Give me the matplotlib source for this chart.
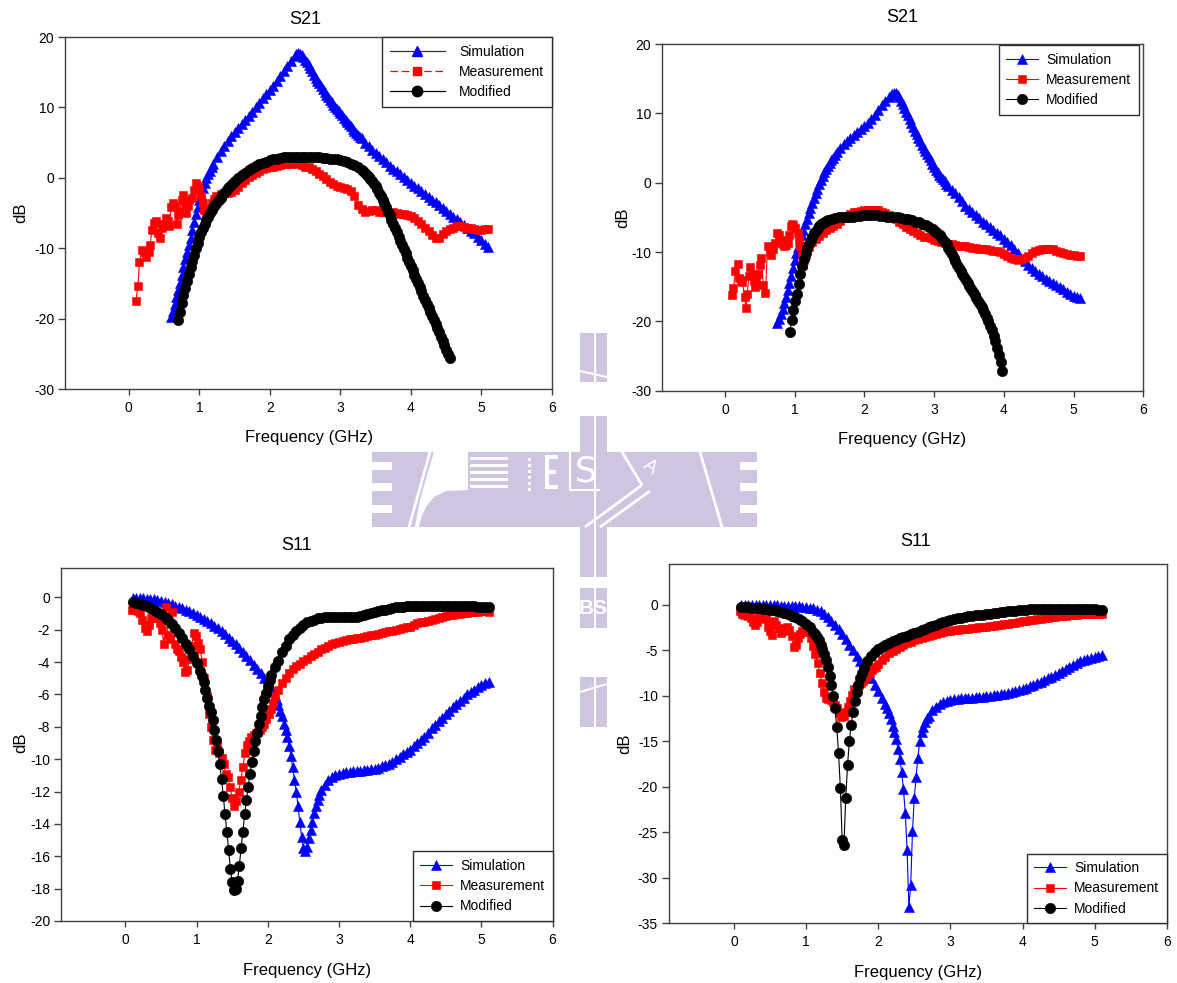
import numpy as np
import matplotlib
matplotlib.use("Agg")
import matplotlib.pyplot as plt
from matplotlib.lines import Line2D
from matplotlib.patches import Rectangle, Polygon

plt.rcParams['font.family'] = ['Liberation Sans', 'DejaVu Sans']
plt.rcParams['axes.unicode_minus'] = False

# ---------------- DATA (frequency in GHz, values in dB) ----------------
# Each segment: start frequency, step.
# Top-left S21
SIM1_A_F0, SIM1_A_STEP = 0.600, 0.025
SIM1_A = [-19.8, -18.9, -17.9, -17.0, -16.0, -14.9, -13.8, -12.7, -11.6, -10.6,
          -9.6, -8.5, -7.4, -6.3, -5.2, -4.2, -3.2, -2.3, -1.5, -0.7,
          0.0, 0.5, 1.0, 1.5, 2.0]
SIM1_B_F0, SIM1_B_STEP = 1.25, 0.05
SIM1_B = [2.9, 3.8, 4.5, 5.2, 5.9, 6.5, 7.1, 7.7, 8.2, 8.8,
          9.4, 10.0, 10.6, 11.3, 11.9, 12.5, 13.1, 13.8, 14.5, 15.2,
          15.9, 16.6, 17.3]
SIM1_C_F0, SIM1_C_STEP = 2.375, 0.025
SIM1_C = [17.6, 17.7, 17.6, 17.4, 17.1, 16.8, 16.4, 16.0, 15.55, 15.1,
          14.65, 14.2, 13.8, 13.4, 13.0, 12.6, 12.2, 11.8, 11.45, 11.1,
          10.75, 10.4, 10.1, 9.8, 9.5, 9.2, 8.85, 8.5, 8.2, 7.9,
          7.6, 7.3, 7.0, 6.7, 6.4, 6.1, 5.85, 5.6]
SIM1_D_F0, SIM1_D_STEP = 3.35, 0.05
SIM1_D = [5.0, 4.5, 4.0, 3.5, 3.1, 2.6, 2.2, 1.7, 1.3, 0.9,
          0.5, 0.1, -0.3, -0.7, -1.1, -1.5, -1.9, -2.3, -2.7, -3.1,
          -3.5, -3.9, -4.3, -4.7, -5.1, -5.5, -5.9, -6.3, -6.7, -7.1,
          -7.5, -7.9, -8.4, -8.9, -9.4, -9.9]
MEAS1_LOW = [(0.10, -17.5), (0.13, -15.3), (0.15, -11.9), (0.19, -10.2), (0.22, -10.5),
             (0.25, -11.2), (0.28, -10.6), (0.30, -9.5), (0.33, -7.4), (0.36, -6.4),
             (0.38, -6.2), (0.41, -7.8), (0.44, -8.6), (0.47, -7.2), (0.50, -6.6),
             (0.52, -5.7), (0.55, -6.2), (0.57, -6.9), (0.60, -4.2), (0.62, -3.6),
             (0.65, -4.0), (0.68, -6.5), (0.70, -5.3), (0.72, -4.8), (0.75, -3.2),
             (0.77, -2.4), (0.79, -3.8), (0.81, -5.0), (0.84, -4.0), (0.86, -3.1),
             (0.89, -2.8), (0.92, -1.7), (0.95, -0.8), (0.98, -1.1), (1.00, -1.7),
             (1.03, -2.6), (1.05, -3.6), (1.07, -4.6), (1.09, -5.5), (1.12, -5.0),
             (1.15, -4.4), (1.18, -3.6), (1.21, -3.0), (1.24, -2.6)]
MEAS1_F0, MEAS1_STEP = 1.30, 0.05
MEAS1 = [-2.3, -2.2, -2.2, -2.0, -1.8, -1.3, -0.7, -0.3, 0.1, 0.4,
         0.7, 0.9, 1.2, 1.4, 1.5, 1.6, 1.7, 1.8, 1.9, 2.0,
         2.0, 2.1, 2.0, 1.8, 1.6, 1.5, 1.3, 0.9, 0.6, 0.3,
         -0.2, -0.6, -0.9, -1.1, -1.3, -1.5, -1.6, -1.9, -2.6, -3.8,
         -4.5, -4.8, -4.7, -4.6, -4.6, -4.8, -4.9, -4.9, -5.0, -4.9,
         -5.0, -5.1, -5.2, -5.3, -5.4, -5.7, -6.1, -6.6, -7.2, -7.6,
         -8.1, -8.6, -8.6, -8.0, -7.6, -7.3, -7.1, -6.9, -6.9, -7.0,
         -7.1, -7.2, -7.3, -7.4, -7.4, -7.3, -7.3]
MOD1_A_F0, MOD1_A_STEP = 0.700, 0.025
MOD1_A = [-20.2, -19.0, -17.8, -16.7, -15.6, -14.6, -13.6, -12.7, -11.8, -10.9,
          -10.0, -9.2, -8.4, -7.7, -7.1, -6.5, -6.0, -5.5, -5.0, -4.6,
          -4.2, -3.8, -3.4, -3.1, -2.8, -2.5, -2.2, -1.85, -1.5, -1.25,
          -1.0, -0.75, -0.5]
MOD1_B_F0, MOD1_B_STEP = 1.55, 0.05
MOD1_B = [0.0, 0.4, 0.7, 1.1, 1.4, 1.7, 1.9, 2.1, 2.3, 2.5,
          2.6, 2.7, 2.8, 2.9, 2.9, 3.0, 3.0, 3.0, 3.0, 3.0,
          3.0, 2.9, 2.9, 2.9, 2.8, 2.8, 2.7, 2.7, 2.6, 2.5,
          2.4, 2.2, 2.0, 1.8, 1.5, 1.1]
MOD1_C_F0, MOD1_C_STEP = 3.325, 0.025
MOD1_C = [0.9, 0.7, 0.4, 0.1, -0.2, -0.5, -0.85, -1.2, -1.65, -2.1,
          -2.6, -3.1, -3.65, -4.2, -4.8, -5.35, -5.95, -6.55, -7.15, -7.75,
          -8.35, -8.95, -9.55, -10.15, -10.75, -11.35, -11.95, -12.55, -13.15, -13.75,
          -14.35, -14.95, -15.55, -16.15, -16.75, -17.35, -17.95, -18.55, -19.1, -19.7,
          -20.25, -20.8, -21.35, -21.95, -22.55, -23.15, -23.75, -24.4, -25.0, -25.6]

# Top-right S21
SIM2_A_F0, SIM2_A_STEP = 0.750, 0.025
SIM2_A = [-20.3, -19.7, -19.0, -18.2, -17.4, -16.5, -15.5, -14.5, -13.4, -12.3,
          -11.2, -10.2, -9.3, -8.4, -7.6, -6.8, -6.0, -5.2, -4.4, -3.65,
          -2.9, -2.2, -1.5, -0.85, -0.2, 0.4, 1.0, 1.5, 2.0, 2.4,
          2.8, 3.2, 3.6, 4.0, 4.4]
SIM2_B_F0, SIM2_B_STEP = 1.65, 0.05
SIM2_B = [5.0, 5.6, 6.0, 6.5, 6.9, 7.3, 7.7, 8.2, 8.6, 9.2,
          9.8, 10.5, 11.2, 11.8, 12.4]
SIM2_C_F0, SIM2_C_STEP = 2.375, 0.025
SIM2_C = [12.6, 12.8, 12.9, 12.9, 12.6, 12.3, 11.8, 11.3, 10.75, 10.2,
          9.7, 9.2, 8.6, 8.0, 7.5, 7.0, 6.5, 6.0, 5.5, 5.0,
          4.6, 4.2, 3.7, 3.2, 2.75, 2.3, 1.9, 1.5, 1.15, 0.8,
          0.5, 0.2, -0.15, -0.5]
SIM2_D_F0, SIM2_D_STEP = 3.25, 0.05
SIM2_D = [-1.0, -1.5, -2.1, -2.6, -3.3, -3.8, -4.2, -4.7, -5.1, -5.6,
          -6.0, -6.4, -6.8, -7.2, -7.6, -8.1, -8.5, -9.0, -9.6, -10.2,
          -10.8, -11.3, -11.8, -12.3, -12.7, -13.1, -13.5, -13.9, -14.2, -14.5,
          -14.8, -15.1, -15.4, -15.7, -16.0, -16.3, -16.5, -16.7]
MEAS2_LOW = [(0.10, -16.2), (0.12, -15.2), (0.15, -12.8), (0.18, -11.7), (0.20, -13.8),
             (0.23, -14.0), (0.25, -14.3), (0.28, -16.5), (0.30, -18.1), (0.32, -16.0),
             (0.34, -13.5), (0.36, -12.1), (0.39, -13.3), (0.41, -14.2), (0.43, -15.0),
             (0.45, -14.0), (0.47, -13.1), (0.50, -11.8), (0.52, -10.9), (0.55, -14.7),
             (0.58, -15.9), (0.61, -9.2), (0.64, -10.0), (0.66, -10.4), (0.69, -9.5),
             (0.72, -8.7), (0.75, -7.3), (0.78, -7.6), (0.80, -8.3), (0.83, -8.9),
             (0.85, -9.2), (0.88, -9.0), (0.90, -8.7), (0.92, -7.5), (0.94, -6.3),
             (0.96, -6.0), (0.98, -6.1), (1.01, -6.6), (1.04, -7.3), (1.06, -8.2),
             (1.08, -9.2), (1.10, -10.5), (1.12, -11.8), (1.14, -11.2), (1.16, -10.4)]
MEAS2_F0, MEAS2_STEP = 1.20, 0.05
MEAS2 = [-9.3, -8.6, -8.1, -7.7, -7.2, -6.8, -6.5, -6.2, -5.9, -5.5,
         -5.1, -4.8, -4.5, -4.3, -4.2, -4.1, -4.0, -4.0, -3.9, -3.9,
         -4.0, -4.2, -4.4, -4.7, -5.0, -5.3, -5.7, -6.0, -6.4, -6.7,
         -7.0, -7.3, -7.6, -7.8, -7.9, -8.0, -8.2, -8.4, -8.5, -8.7,
         -8.8, -8.9, -9.0, -9.1, -9.2, -9.2, -9.3, -9.4, -9.4, -9.5,
         -9.5, -9.6, -9.7, -9.8, -9.9, -10.0, -10.3, -10.6, -10.8, -11.0,
         -11.1, -11.0, -10.9, -10.6, -10.2, -9.9, -9.7, -9.6, -9.5, -9.5,
         -9.6, -9.8, -10.0, -10.1, -10.3, -10.4, -10.5, -10.6, -10.6]
MOD2_A_F0, MOD2_A_STEP = 0.930, 0.025
MOD2_A = [-21.5, -19.8, -18.3, -17.1, -16.0, -14.6, -13.2, -12.0, -11.0, -10.1,
          -9.4, -8.8, -8.3, -7.8, -7.3, -6.9, -6.5, -6.2, -6.0, -5.8,
          -5.6, -5.5, -5.4]
MOD2_B_F0, MOD2_B_STEP = 1.53, 0.05
MOD2_B = [-5.2, -5.1, -5.0, -5.0, -4.9, -4.9, -4.9, -4.8, -4.8, -4.7,
          -4.7, -4.7, -4.7, -4.7, -4.8, -4.8, -4.9, -4.9, -5.0, -5.0,
          -5.1, -5.2, -5.3, -5.4, -5.6, -5.7, -5.9, -6.1, -6.4, -6.7]
MOD2_C_F0, MOD2_C_STEP = 3.005, 0.025
MOD2_C = [-6.9, -7.1, -7.35, -7.6, -7.9, -8.2, -8.55, -8.9, -9.35, -9.8,
          -10.3, -10.8, -11.3, -11.8, -12.25, -12.7, -13.15, -13.6, -14.05, -14.5,
          -14.95, -15.4, -15.8, -16.2, -16.6, -17.0, -17.45, -17.9, -18.4, -18.9,
          -19.45, -20.0, -20.6, -21.3, -22.1, -22.9, -23.8, -24.8, -25.9, -27.2]

# Bottom-left S11
SIM3_A_F0, SIM3_A_STEP = 0.10, 0.05
SIM3_A = [-0.05, -0.05, -0.05, -0.06, -0.08, -0.10, -0.12, -0.16, -0.20, -0.27,
          -0.35, -0.43, -0.52, -0.60, -0.68, -0.77, -0.87, -0.98, -1.10, -1.22,
          -1.33, -1.45, -1.60, -1.76, -1.92, -2.10, -2.28, -2.48, -2.68, -2.90,
          -3.12, -3.37, -3.62, -3.88, -4.15, -4.42, -4.70, -5.00, -5.30, -5.65]
SIM3_B_F0, SIM3_B_STEP = 2.075, 0.025
SIM3_B = [-5.85, -6.05, -6.35, -6.65, -7.0, -7.35, -7.8, -8.2, -8.6, -9.2,
          -9.8, -10.5, -11.3, -12.0, -12.9, -13.9, -14.8, -15.5, -15.7, -15.4,
          -14.9, -14.4, -13.9, -13.3, -12.9, -12.5, -12.2, -11.9]
SIM3_C_F0, SIM3_C_STEP = 2.80, 0.05
SIM3_C = [-11.6, -11.3, -11.1, -11.0, -10.9, -10.85, -10.8, -10.78, -10.75, -10.72,
          -10.7, -10.68, -10.65, -10.62, -10.58, -10.52, -10.45, -10.37, -10.28, -10.15,
          -10.0, -9.85, -9.7, -9.55, -9.4, -9.2, -9.0, -8.8, -8.6, -8.35,
          -8.1, -7.9, -7.65, -7.45, -7.2, -7.0, -6.8, -6.6, -6.4, -6.2,
          -6.0, -5.85, -5.7, -5.55, -5.4, -5.3, -5.2]
MEAS3_A_F0, MEAS3_A_STEP = 0.09, 0.03
MEAS3_A = [-0.75, -0.8, -0.8, -0.85, -0.95, -1.4, -1.9, -2.1, -1.7, -1.3,
           -1.1, -0.9, -1.3, -1.6, -2.0, -2.9, -0.6, -2.3, -2.6, -0.9,
           -2.9, -3.2, -3.3, -3.7, -4.0, -4.6, -4.5, -3.8, -3.0, -2.2,
           -2.4, -2.8, -3.2, -4.0, -5.0, -6.1, -7.2, -8.0, -8.8, -9.4,
           -9.0, -9.6, -9.9, -10.3, -10.9, -11.1, -11.7, -12.4, -12.9, -12.6,
           -12.0, -11.3, -10.5, -9.6, -9.1, -8.9, -8.6, -8.5, -8.4, -8.3,
           -8.2, -8.0, -7.8, -7.5, -7.2, -6.9, -6.5, -6.1]
MEAS3_B_F0, MEAS3_B_STEP = 2.15, 0.05
MEAS3_B = [-5.7, -5.3, -5.0, -4.7, -4.45, -4.25, -4.1, -3.95, -3.8, -3.65,
           -3.5, -3.35, -3.2, -3.1, -3.0, -2.9, -2.8, -2.75, -2.7, -2.65,
           -2.6, -2.55, -2.5, -2.48, -2.45, -2.4, -2.35, -2.3, -2.25, -2.2,
           -2.15, -2.1, -2.05, -2.0, -1.95, -1.9, -1.85, -1.8, -1.7, -1.6,
           -1.55, -1.5, -1.45, -1.4, -1.33, -1.27, -1.2, -1.15, -1.1, -1.07,
           -1.03, -1.0, -0.97, -0.94, -0.91, -0.89, -0.88, -0.87, -0.87, -0.9]
MOD3_A_F0, MOD3_A_STEP = 0.10, 0.05
MOD3_A = [-0.28, -0.33, -0.4, -0.48, -0.55, -0.63, -0.75, -0.88, -1.02, -1.2,
          -1.42, -1.65, -1.9, -2.2, -2.5, -2.85, -3.2, -3.6, -4.05, -4.55]
MOD3_B_F0, MOD3_B_STEP = 1.075, 0.025
MOD3_B = [-4.85, -5.2, -5.7, -6.2, -6.7, -7.1, -7.6, -8.2, -8.8, -9.5,
          -10.3, -11.2, -12.3, -13.4, -14.5, -15.6, -16.8, -17.6, -18.1, -18.0,
          -17.5, -16.6, -15.5, -14.5, -13.4, -12.5, -11.7, -10.9, -10.2, -9.5,
          -8.9, -8.4, -7.8, -7.3, -6.8, -6.3, -5.9, -5.5, -5.1, -4.8]
MOD3_C_F0, MOD3_C_STEP = 2.10, 0.05
MOD3_C = [-4.3, -3.9, -3.4, -3.0, -2.6, -2.35, -2.1, -1.9, -1.7, -1.55,
          -1.45, -1.37, -1.3, -1.26, -1.23, -1.22, -1.21, -1.2, -1.2, -1.2,
          -1.2, -1.2, -1.2, -1.18, -1.15, -1.1, -1.05, -0.98, -0.92, -0.86,
          -0.8, -0.75, -0.7, -0.66, -0.62, -0.6, -0.58, -0.56, -0.55, -0.54,
          -0.53, -0.52, -0.51, -0.5, -0.5, -0.5, -0.5, -0.5, -0.5, -0.5,
          -0.5, -0.51, -0.52, -0.53, -0.54, -0.55, -0.56, -0.57, -0.58, -0.59, -0.6]

# Bottom-right S11
SIM4_A_F0, SIM4_A_STEP = 0.10, 0.05
SIM4_A = [-0.05, -0.05, -0.05, -0.05, -0.05, -0.05, -0.06, -0.06, -0.07, -0.08,
          -0.09, -0.10, -0.11, -0.12, -0.14, -0.16, -0.18, -0.21, -0.26, -0.33,
          -0.42, -0.55, -0.75, -1.05, -1.4, -1.8, -2.2, -2.7, -3.25, -3.8,
          -4.4, -5.0, -5.6, -6.2, -6.8, -7.45, -8.1, -8.8, -9.5, -10.2, -10.9]
SIM4_B_F0, SIM4_B_STEP = 2.125, 0.025
SIM4_B = [-11.3, -11.9, -12.6, -13.3, -14.0, -14.8, -15.9, -17.0, -18.4, -20.3,
          -22.9, -26.9, -33.2, -30.8, -24.9, -21.2, -18.9, -16.8, -15.0, -14.0,
          -13.4, -12.9, -12.5, -12.2]
SIM4_C_F0, SIM4_C_STEP = 2.75, 0.05
SIM4_C = [-11.6, -11.2, -10.9, -10.7, -10.55, -10.45, -10.4, -10.35, -10.3, -10.28,
          -10.25, -10.2, -10.17, -10.14, -10.1, -10.06, -10.02, -9.97, -9.92, -9.86,
          -9.78, -9.7, -9.6, -9.5, -9.38, -9.25, -9.1, -8.95, -8.8, -8.65,
          -8.5, -8.3, -8.1, -7.9, -7.7, -7.5, -7.3, -7.05, -6.85, -6.6,
          -6.4, -6.2, -6.1, -5.95, -5.85, -5.75, -5.6, -5.5]
MEAS4_A_F0, MEAS4_A_STEP = 0.08, 0.03
MEAS4_A = [-0.7, -1.0, -1.1, -0.9, -1.2, -1.5, -1.9, -2.2, -1.9, -1.5,
           -1.1, -1.3, -1.6, -2.4, -2.9, -3.3, -1.8, -2.2, -2.6, -3.1,
           -2.9, -2.7, -2.5, -2.8, -3.4, -4.6, -4.4, -3.7, -3.2, -2.9,
           -3.0, -2.8, -3.0, -3.7, -4.5, -5.4, -6.4, -7.5, -8.6, -9.6,
           -10.2, -10.4, -10.5, -10.7, -11.0, -11.4, -11.9, -12.3, -12.2, -11.8,
           -11.2, -10.6, -9.9, -9.3, -9.0, -8.8, -8.6, -8.4, -8.1, -7.8,
           -7.5, -7.2, -7.0, -6.8, -6.5]
MEAS4_B_F0, MEAS4_B_STEP = 2.05, 0.05
MEAS4_B = [-6.1, -5.7, -5.35, -5.1, -4.85, -4.6, -4.4, -4.2, -4.05, -3.9,
           -3.75, -3.62, -3.5, -3.4, -3.3, -3.2, -3.1, -3.0, -2.93, -2.87,
           -2.8, -2.75, -2.7, -2.66, -2.62, -2.58, -2.54, -2.5, -2.45, -2.4,
           -2.36, -2.32, -2.26, -2.2, -2.14, -2.08, -2.02, -1.96, -1.9, -1.83,
           -1.77, -1.71, -1.66, -1.6, -1.54, -1.48, -1.42, -1.37, -1.32, -1.28,
           -1.24, -1.2, -1.16, -1.13, -1.1, -1.08, -1.06, -1.04, -1.02, -1.01,
           -1.0, -1.0]
MOD4_A_F0, MOD4_A_STEP = 0.10, 0.05
MOD4_A = [-0.25, -0.27, -0.3, -0.33, -0.36, -0.4, -0.45, -0.5, -0.55, -0.62,
          -0.7, -0.8, -0.92, -1.05, -1.22, -1.4, -1.6, -1.8, -2.1, -2.5, -2.95]
MOD4_B_F0, MOD4_B_STEP = 1.125, 0.025
MOD4_B = [-3.2, -3.5, -3.9, -4.4, -4.9, -5.4, -6.1, -6.9, -7.8, -8.8,
          -10.0, -11.4, -13.4, -16.3, -20.1, -25.8, -26.4, -21.2, -17.6, -15.0,
          -13.2, -11.8, -10.6, -9.6, -8.8, -8.1, -7.5, -7.0]
MOD4_C_F0, MOD4_C_STEP = 1.85, 0.05
MOD4_C = [-6.2, -5.6, -5.2, -4.9, -4.7, -4.4, -4.2, -4.0, -3.85, -3.7,
          -3.55, -3.4, -3.25, -3.1, -2.95, -2.8, -2.65, -2.5, -2.35, -2.2,
          -2.05, -1.9, -1.8, -1.7, -1.6, -1.5, -1.42, -1.35, -1.28, -1.22,
          -1.17, -1.13, -1.09, -1.05, -1.0, -0.95, -0.9, -0.85, -0.8, -0.75,
          -0.7, -0.66, -0.62, -0.58, -0.55, -0.52, -0.5, -0.48, -0.46, -0.45,
          -0.44, -0.43, -0.43, -0.43, -0.43, -0.44, -0.45, -0.46, -0.47, -0.48,
          -0.5, -0.51, -0.52, -0.53, -0.54, -0.55]

TITLES = ["S21", "S21", "S11", "S11"]
LABELS = ["Simulation", "Measurement", "Modified"]
XTICKS = [0, 1, 2, 3, 4, 5, 6]
YTICKS = [[-30, -20, -10, 0, 10, 20], [-30, -20, -10, 0, 10, 20],
          list(range(-20, 1, 2)), list(range(-35, 1, 5))]


def seg(f0, step, vals):
    return f0 + step * np.arange(len(vals)), np.asarray(vals, float)


def join(*parts):
    fs, vs = zip(*parts)
    return np.concatenate(fs), np.concatenate(vs)


def pairs(p):
    a = np.asarray(p, float)
    return a[:, 0], a[:, 1]


series = [
    (join(seg(SIM1_A_F0, SIM1_A_STEP, SIM1_A), seg(SIM1_B_F0, SIM1_B_STEP, SIM1_B),
          seg(SIM1_C_F0, SIM1_C_STEP, SIM1_C), seg(SIM1_D_F0, SIM1_D_STEP, SIM1_D)),
     join(pairs(MEAS1_LOW), seg(MEAS1_F0, MEAS1_STEP, MEAS1)),
     join(seg(MOD1_A_F0, MOD1_A_STEP, MOD1_A), seg(MOD1_B_F0, MOD1_B_STEP, MOD1_B),
          seg(MOD1_C_F0, MOD1_C_STEP, MOD1_C))),
    (join(seg(SIM2_A_F0, SIM2_A_STEP, SIM2_A), seg(SIM2_B_F0, SIM2_B_STEP, SIM2_B),
          seg(SIM2_C_F0, SIM2_C_STEP, SIM2_C), seg(SIM2_D_F0, SIM2_D_STEP, SIM2_D)),
     join(pairs(MEAS2_LOW), seg(MEAS2_F0, MEAS2_STEP, MEAS2)),
     join(seg(MOD2_A_F0, MOD2_A_STEP, MOD2_A), seg(MOD2_B_F0, MOD2_B_STEP, MOD2_B),
          seg(MOD2_C_F0, MOD2_C_STEP, MOD2_C))),
    (join(seg(SIM3_A_F0, SIM3_A_STEP, SIM3_A), seg(SIM3_B_F0, SIM3_B_STEP, SIM3_B),
          seg(SIM3_C_F0, SIM3_C_STEP, SIM3_C)),
     join(seg(MEAS3_A_F0, MEAS3_A_STEP, MEAS3_A), seg(MEAS3_B_F0, MEAS3_B_STEP, MEAS3_B)),
     join(seg(MOD3_A_F0, MOD3_A_STEP, MOD3_A), seg(MOD3_B_F0, MOD3_B_STEP, MOD3_B),
          seg(MOD3_C_F0, MOD3_C_STEP, MOD3_C))),
    (join(seg(SIM4_A_F0, SIM4_A_STEP, SIM4_A), seg(SIM4_B_F0, SIM4_B_STEP, SIM4_B),
          seg(SIM4_C_F0, SIM4_C_STEP, SIM4_C)),
     join(seg(MEAS4_A_F0, MEAS4_A_STEP, MEAS4_A), seg(MEAS4_B_F0, MEAS4_B_STEP, MEAS4_B)),
     join(seg(MOD4_A_F0, MOD4_A_STEP, MOD4_A), seg(MOD4_B_F0, MOD4_B_STEP, MOD4_B),
          seg(MOD4_C_F0, MOD4_C_STEP, MOD4_C))),
]

# ---------------- FIGURE ----------------
W, H = 1177, 983
fig = plt.figure(figsize=(W / 100, H / 100), dpi=100)
fig.patch.set_facecolor('white')

# watermark (background, pixel coordinates)
LAV = '#cec6e1'
bg = fig.add_axes([0, 0, 1, 1], zorder=-10)
bg.set_xlim(0, W)
bg.set_ylim(H, 0)
bg.axis('off')


def rect(x0, y0, x1, y1, c=LAV):
    bg.add_patch(Rectangle((x0, y0), x1 - x0, y1 - y0, facecolor=c, edgecolor='none'))


def wline(xs, ys, lw=2.0):
    bg.plot(xs, ys, color='white', lw=lw, solid_capstyle='butt')


rect(372, 452, 757, 527)
for y0 in (462, 483, 505):
    rect(372, y0, 392, y0 + 8, 'white')
    rect(740, y0, 757, y0 + 8, 'white')
wline([430, 409], [452, 527])
wline([700, 722], [452, 527])
bg.add_patch(Polygon([(434, 452), (468, 452), (468, 490), (446, 491), (434, 497), (426, 507),
                      (421, 518), (419, 527), (415, 527), (420, 500), (427, 475)],
                     facecolor='white', edgecolor='none'))
for y in (457, 464, 471, 478, 485):
    rect(470, y, 508, y + 2.5, 'white')
for y in (458, 464, 470, 476, 482, 488):
    rect(527.5, y, 531, y + 2.5, 'white')
rect(545, 455, 549, 489, 'white')
rect(545, 455, 558, 459, 'white')
rect(545, 470, 556, 474, 'white')
rect(545, 485, 558, 489, 'white')
wline([570, 570, 600], [452, 490, 490], 1.5)
bg.text(586, 471, 'S', color='white', fontsize=25, ha='center', va='center',
        family=['Liberation Sans Narrow', 'DejaVu Sans'])
wline([585, 642], [527, 485])
wline([600, 650], [527, 491])
wline([642, 622], [485, 452])
bg.text(650, 467, 'A', color='white', fontsize=14, ha='center', va='center', rotation=-35)
for y0, y1 in ((333, 382), (416, 577), (588, 628), (677, 727)):
    rect(580, y0, 607, y1)
wline([594.5, 594.5], [333, 727], 1.5)
wline([580, 607], [371, 377], 1.5)
wline([580, 607], [692, 684], 1.5)
bg.text(593, 608, 'BS', color='white', fontsize=15, fontweight='bold', ha='center', va='center')

# axes positions (pixels: left, top, right, bottom)
AX_PX = [(65.4, 37.0, 551.9, 389.0), (662.3, 44.0, 1143.2, 390.7),
         (61.3, 568.3, 552.6, 921.0), (669.0, 563.7, 1166.8, 923.3)]
YLIMS = [(-30, 20), (-30, 20), (-20, 1.8), (-35, 4.5)]
TITLE_PX = [(305.6, 20), (902, 18), (297, 545), (915.8, 541.7)]
XLAB = [(0.5, -0.139), (0.498, -0.142), (0.5, -0.141), (0.5, -0.138)]
YLAB = [(-0.092, 0.5), (-0.082, 0.5), (-0.083, 0.505), (-0.089, 0.5)]

SIM_STY = dict(color='#0000ff', marker='^', markersize=7, linewidth=0.8, markeredgewidth=0.4)
MEAS_STY = dict(color='#ff0000', marker='s', markersize=6, linewidth=0.8, markeredgewidth=0.4)
MOD_STY = dict(color='#000000', marker='o', markersize=7.5, linewidth=0.8, markeredgewidth=0.4)
SPINE = '#404040'

for i, (l, t, r, b) in enumerate(AX_PX):
    ax = fig.add_axes([l / W, 1 - b / H, (r - l) / W, (b - t) / H])
    ax.set_facecolor('white')
    (fs, vs), (fm, vm), (fo, vo) = series[i]
    h1, = ax.plot(fs, vs, **SIM_STY)
    h2, = ax.plot(fm, vm, **MEAS_STY)
    h3, = ax.plot(fo, vo, **MOD_STY)
    ax.set_xlim(-0.9, 6)
    ax.set_ylim(*YLIMS[i])
    ax.set_xticks(XTICKS)
    ax.set_yticks(YTICKS[i])
    for s in ax.spines.values():
        s.set_color(SPINE)
        s.set_linewidth(1.0)
    ax.tick_params(axis='x', direction='out', length=4, width=1, pad=4.5,
                   labelsize=10, color=SPINE, top=False)
    ax.tick_params(axis='y', direction='out', length=5, width=1, pad=3,
                   labelsize=10, color=SPINE, right=False)
    ax.set_xlabel('Frequency (GHz)', fontsize=12)
    ax.set_ylabel('dB', fontsize=12)
    ax.xaxis.set_label_coords(*XLAB[i])
    ax.xaxis.label.set_va('center')
    ax.yaxis.set_label_coords(*YLAB[i])
    ax.yaxis.label.set_va('center')
    ax.yaxis.label.set_ha('center')
    tx, ty = TITLE_PX[i]
    fig.text(tx / W, 1 - ty / H, TITLES[i], fontsize=13, ha='center', va='center')

    if i == 0:
        handles = [Line2D([], [], color='#333333', lw=0.9, marker='^', markersize=7,
                          markerfacecolor='#0000ff', markeredgecolor='#0000ff'),
                   Line2D([], [], color='#ff0000', lw=0.9, ls=(0, (6, 3)), marker='s',
                          markersize=6),
                   Line2D([], [], color='#000000', lw=0.9, marker='o', markersize=7.5)]
        leg = ax.legend(handles, LABELS, loc='upper right', bbox_to_anchor=(1, 1),
                        borderaxespad=0, fontsize=10, handlelength=4.0, handletextpad=1.0,
                        labelspacing=0.45, borderpad=0.55, fancybox=False, framealpha=1)
    else:
        if i == 1:
            loc, anchor = 'upper right', (1 - 4.5 / (r - l), 1 - 1 / (b - t))
        else:
            loc, anchor = 'lower right', (1, 0)
        leg = ax.legend([h1, h2, h3], LABELS, loc=loc, bbox_to_anchor=anchor,
                        borderaxespad=0, fontsize=10, handlelength=2.3, handletextpad=0.55,
                        labelspacing=0.45, borderpad=0.55, fancybox=False, framealpha=1)
    leg.get_frame().set_edgecolor('#303030')
    leg.get_frame().set_linewidth(1.0)

fig.savefig('out.png', dpi=100, facecolor='white')
